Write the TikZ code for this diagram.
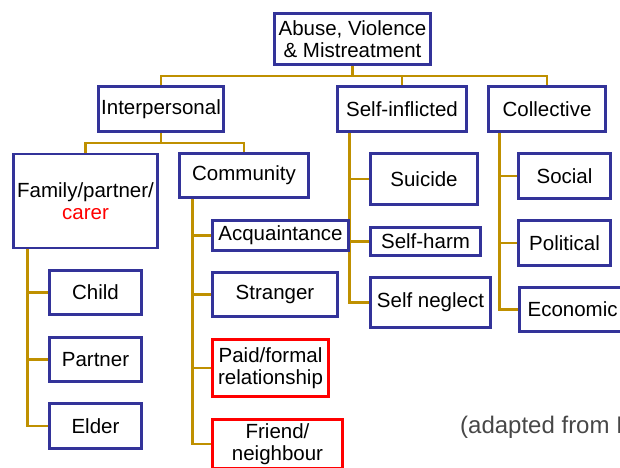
\documentclass[tikz,border=0pt]{standalone}
\usepackage{fontspec}
\setmainfont{Liberation Sans}
\usetikzlibrary{positioning, backgrounds}
\definecolor{boxblue}{RGB}{51,51,153}
\definecolor{linkgold}{RGB}{191,144,0}
\tikzstyle{vbox} = [draw=boxblue, line width=2.6pt, fill=white, align=center, inner sep=2pt, font=\fontsize{20.5}{22}\selectfont]
\tikzstyle{rbox} = [vbox, draw=red]
\tikzstyle{line} = [draw=linkgold, line width=2.6pt]

\begin{document}
\begin{tikzpicture}[x=1pt, y=-1pt]
	\useasboundingbox (0,0) rectangle (620,467);
	\clip (0,0) rectangle (620,467);

	% top and first level
	\node [vbox, minimum width=156pt, minimum height=51pt] (abuse) at (352.5, 39) {Abuse, Violence\\\& Mistreatment};
	\node [vbox, minimum width=125pt, minimum height=45pt] (inter) at (161, 109) {Interpersonal};
	\node [vbox, minimum width=129pt, minimum height=45pt] (self) at (402, 109) {Self-inflicted};
	\node [vbox, minimum width=117pt, minimum height=45pt] (coll) at (547, 109) {Collective};

	% interpersonal
	\node [vbox, minimum width=144pt, minimum height=94pt] (family) at (85.5, 201) {Family/partner/\\\textcolor{red}{carer}};
	\node [vbox, minimum width=129pt, minimum height=44pt] (comm) at (244, 175.5) {Community};
	\node [vbox, minimum width=92pt, minimum height=44pt] (child) at (95.5, 292.5) {Child};
	\node [vbox, minimum width=92pt, minimum height=44pt] (partner) at (95.5, 359.5) {Partner};
	\node [vbox, minimum width=92pt, minimum height=45pt] (elder) at (95.5, 426) {Elder};
	\node [vbox, minimum width=136pt, minimum height=30pt] (acq) at (280.5, 235.5) {Acquaintance};
	\node [vbox, minimum width=125pt, minimum height=44pt] (stranger) at (275, 294.5) {Stranger};
	\node [rbox, minimum width=116pt, minimum height=57pt] (paid) at (270.5, 368) {Paid/formal\\relationship};
	\node [rbox, minimum width=130pt, minimum height=49pt] (friend) at (277.5, 444) {Friend/\\neighbour};

	% self-inflicted
	\node [vbox, minimum width=107pt, minimum height=51pt] (suicide) at (424, 179) {Suicide};
	\node [vbox, minimum width=110pt, minimum height=28pt] (harm) at (425.5, 241.5) {Self-harm};
	\node [vbox, minimum width=120pt, minimum height=50pt] (neglect) at (430.5, 302.5) {Self neglect};

	% collective
	\node [vbox, minimum width=92pt, minimum height=45pt] (social) at (564.5, 176) {Social};
	\node [vbox, minimum width=92pt, minimum height=45pt] (political) at (564.5, 243) {Political};
	\node [vbox, anchor=west, minimum width=106pt, minimum height=44pt] (economic) at (518.3, 309.5) {Economic};

	\node [anchor=west, text=black!72, inner sep=0pt, font=\fontsize{24}{26}\selectfont] (source) at (460, 427) {(adapted from K};

	\begin{scope}[on background layer]
		\path [line] (abuse.south) -- ++(0,10) -| (inter.north);
		\path [line] (abuse.south) -- ++(0,10) -| (self.north);
		\path [line] (abuse.south) -- ++(0,10) -| (coll.north);
		\path [line] (inter.south) -- ++(0,10) -| (family.north);
		\path [line] (inter.south) -- ++(0,10) -| (comm.north);

		\path [line] ([xshift=15pt]family.south west) |- (child.west);
		\path [line] ([xshift=15pt]family.south west) |- (partner.west);
		\path [line] ([xshift=15pt]family.south west) |- (elder.west);

		\path [line] ([xshift=14pt]comm.south west) |- (acq.west);
		\path [line] ([xshift=14pt]comm.south west) |- (stranger.west);
		\path [line] ([xshift=14pt]comm.south west) |- (paid.west);
		\path [line] ([xshift=14pt]comm.south west) |- (friend.west);

		\path [line] ([xshift=13pt]self.south west) |- (suicide.west);
		\path [line] ([xshift=13pt]self.south west) |- (harm.west);
		\path [line] ([xshift=13pt]self.south west) |- (neglect.west);

		\path [line] ([xshift=12pt]coll.south west) |- (social.west);
		\path [line] ([xshift=12pt]coll.south west) |- (political.west);
		\path [line] ([xshift=12pt]coll.south west) |- (economic.west);
	\end{scope}
\end{tikzpicture}
\end{document}
